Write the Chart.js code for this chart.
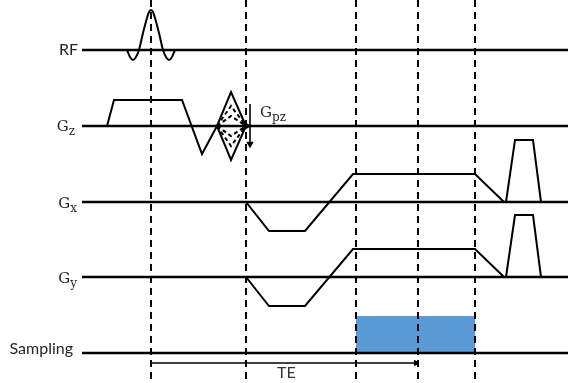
<!DOCTYPE html>
<html>
<head>
<meta charset="utf-8">
<script src="https://cdn.jsdelivr.net/npm/chart.js@4/dist/chart.umd.min.js"></script>
<style>
    html, body { margin: 0; padding: 0; background: #fff; }
    canvas { display: block; }
</style>
</head>
<body>
<canvas id="seq" width="568" height="383"></canvas>
<script>
// Timing diagram: time runs left to right, each row has its own baseline.
const rowNames = ['RF', 'Gz', 'Gx', 'Gy', 'Sampling'];
const rowBaseY = [50, 126, 202, 277, 353];
const rowStartX = 82;
const rowEndX = 568;

// RF excitation (sinc-shaped pulse)
const rfTime = [127, 130, 133, 136, 139, 143, 147, 149, 151, 153, 155, 159, 163, 166, 169, 172, 175];
const rfAmp = [0, -7, -10, -7, 0, 17, 32, 38, 40, 38, 32, 17, 0, -7, -10, -7, 0];

// slice select + rephasing lobe
const gzTime = [107, 114, 182, 202, 217];
const gzAmp = [0, 26, 26, -28, 0];

// phase encoding table on Gz
const peTime = [217, 231, 246];
const peMax = 34;
const peSteps = [20, 10, -10, -20];
const gpzArrow = [22, -18];
const gpzX = 250;

// readout dephase / readout / spoiler
const gxTime = [246, 269, 305, 353, 475, 504];
const gxAmp = [0, -29, -29, 28, 28, 0];
const gyTime = [246, 269, 305, 353, 475, 504];
const gyAmp = [0, -29, -29, 28, 28, 0];
const spoilTime = [506, 515, 533, 541];
const spoilAmp = [0, 62, 62, 0];

// ADC window
const samplingWindow = [356, 475];
const samplingHeight = 37;

// timing markers
const markerTimes = [151, 246, 356, 418, 475];
const teSpan = [151, 418];
const teOffset = -10;

const ink = '#000000';

function pts(times, amps, rowIdx) {
    const base = rowBaseY[rowIdx];
    return times.map((t, i) => ({ x: t, y: base - amps[i] }));
}

function lineSet(data, extra = {}) {
    return Object.assign({
        data,
        showLine: true,
        borderColor: ink,
        borderWidth: 2,
        pointRadius: 0,
        pointHoverRadius: 0,
        fill: false,
        tension: 0,
        order: 1,
    }, extra);
}

function arrowSet(data, rotation, radius) {
    return lineSet(data, {
        borderWidth: 1.6,
        pointStyle: 'triangle',
        pointRotation: rotation,
        pointRadius: (c) => (c.dataIndex === data.length - 1 ? radius : 0),
        pointBackgroundColor: ink,
        pointBorderColor: ink,
        pointBorderWidth: 1,
        order: 0,
    });
}

const datasets = [];

// baselines
rowBaseY.forEach((y) => {
    datasets.push(lineSet([{ x: rowStartX, y }, { x: rowEndX, y }], { borderWidth: 2.5 }));
});

// sampling window
datasets.push(lineSet(
    [{ x: samplingWindow[0], y: rowBaseY[4] - samplingHeight }, { x: samplingWindow[1], y: rowBaseY[4] - samplingHeight }],
    { borderWidth: 0, fill: { value: rowBaseY[4] }, backgroundColor: '#5b9bd5', order: 5 }
));

// dashed timing markers
markerTimes.forEach((t) => {
    datasets.push(lineSet([{ x: t, y: 0 }, { x: t, y: 383 }], { borderDash: [7, 5], order: 0 }));
});

datasets.push(lineSet(pts(rfTime, rfAmp, 0), { cubicInterpolationMode: 'monotone' }));
datasets.push(lineSet(pts(gzTime, gzAmp, 1)));

// outer phase-encode diamond
datasets.push(lineSet(pts([peTime[0], peTime[1], peTime[2], peTime[1], peTime[0]], [0, peMax, 0, -peMax, 0], 1)));
// inner steps
peSteps.forEach((a) => {
    datasets.push(lineSet(pts(peTime, [0, a, 0], 1), { borderDash: [4, 3] }));
});
datasets.push(lineSet(pts([peTime[2] - 3, peTime[2]], [0, 0], 1), {
    pointStyle: 'triangle', pointRotation: 90, pointRadius: (c) => (c.dataIndex === 1 ? 3.5 : 0),
    pointBackgroundColor: ink, pointBorderColor: ink,
}));
datasets.push(arrowSet(pts([gpzX, gpzX], gpzArrow, 1), 180, 3.5));

datasets.push(lineSet(pts(gxTime, gxAmp, 2)));
datasets.push(lineSet(pts(spoilTime, spoilAmp, 2)));
datasets.push(lineSet(pts(gyTime, gyAmp, 3)));
datasets.push(lineSet(pts(spoilTime, spoilAmp, 3)));

// TE arrow
datasets.push(arrowSet(
    [{ x: teSpan[0], y: rowBaseY[4] - teOffset }, { x: teSpan[1] - 2, y: rowBaseY[4] - teOffset }],
    90, 3
));

const sansFont = 'Lato, "Open Sans", sans-serif';
const serifFont = '"DejaVu Serif", "Liberation Serif", serif';

function drawSubLabel(ctx, main, sub, right, baseline) {
    ctx.font = `15px ${serifFont}`;
    const wMain = ctx.measureText(main).width;
    ctx.font = `12px ${serifFont}`;
    const wSub = ctx.measureText(sub).width;
    const left = right - wMain - wSub;
    ctx.textAlign = 'left';
    ctx.font = `15px ${serifFont}`;
    ctx.fillText(main, left, baseline);
    ctx.font = `12px ${serifFont}`;
    ctx.fillText(sub, left + wMain, baseline + 4);
}

const rowLabels = {
    id: 'rowLabels',
    afterDatasetsDraw(chart) {
        const { ctx, scales } = chart;
        const px = (v) => scales.x.getPixelForValue(v);
        const py = (v) => scales.y.getPixelForValue(v);
        ctx.save();
        ctx.fillStyle = '#262626';
        ctx.textBaseline = 'alphabetic';

        ctx.font = `16px ${sansFont}`;
        ctx.textAlign = 'right';
        ctx.fillText(rowNames[0], px(78), py(rowBaseY[0] + 5));
        ctx.fillText(rowNames[4], px(73), py(rowBaseY[4] + 1));

        drawSubLabel(ctx, 'G', 'z', px(75), py(rowBaseY[1] + 5));
        drawSubLabel(ctx, 'G', 'x', px(77), py(rowBaseY[2] + 6));
        drawSubLabel(ctx, 'G', 'y', px(77), py(rowBaseY[3] + 6));
        drawSubLabel(ctx, 'G', 'pz', px(286), py(rowBaseY[1] - 9));

        ctx.font = `16px ${sansFont}`;
        ctx.textAlign = 'left';
        ctx.fillStyle = '#333333';
        ctx.fillText('TE', px(277), py(378));
        ctx.restore();
    },
};

new Chart(document.getElementById('seq'), {
    type: 'scatter',
    data: { datasets },
    options: {
        responsive: false,
        animation: false,
        devicePixelRatio: 1,
        layout: { padding: 0, autoPadding: false },
        plugins: {
            legend: { display: false },
            tooltip: { enabled: false },
        },
        scales: {
            x: { type: 'linear', min: 0, max: 568, display: false },
            y: { type: 'linear', min: 0, max: 383, reverse: true, display: false },
        },
        elements: { line: { borderCapStyle: 'butt', borderJoinStyle: 'miter' } },
    },
    plugins: [rowLabels],
});
</script>
</body>
</html>
